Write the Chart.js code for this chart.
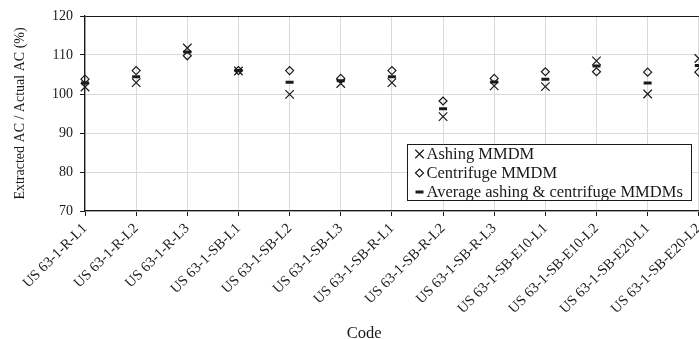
<!DOCTYPE html>
<html>
<head>
<meta charset="utf-8">
<script src="https://cdn.jsdelivr.net/npm/chart.js@4/dist/chart.umd.min.js"></script>
<style>
  html, body { margin: 0; padding: 0; background: #fff; overflow: hidden; }
  #wrap { width: 699px; height: 339px; overflow: hidden; }
  #chart { display: block; }
</style>
</head>
<body>
<div id="wrap"><canvas id="chart" width="699" height="339"></canvas></div>
<script>
// Sample codes along the x axis.
const codes = [
  "US 63-1-R-L1", "US 63-1-R-L2", "US 63-1-R-L3",
  "US 63-1-SB-L1", "US 63-1-SB-L2", "US 63-1-SB-L3",
  "US 63-1-SB-R-L1", "US 63-1-SB-R-L2", "US 63-1-SB-R-L3",
  "US 63-1-SB-E10-L1", "US 63-1-SB-E10-L2",
  "US 63-1-SB-E20-L1", "US 63-1-SB-E20-L2",
];

// Extracted / actual AC (%).
const ashing     = [101.8, 102.9, 111.8, 105.9, 99.9, 102.7, 102.9, 94.2, 102.1, 101.9, 108.5, 100.0, 109.1];
const centrifuge = [103.8, 106.0, 109.8, 106.0, 106.0, 104.0, 106.0, 98.2, 104.0, 105.7, 105.7, 105.6, 105.6];
const average    = [102.8, 104.4, 110.8, 106.0, 103.0, 103.4, 104.4, 96.2, 103.1, 103.8, 107.2, 102.8, 107.3];

const yMin = 70, yMax = 120, yStep = 10;
const xTitle = "Code";
const yTitle = "Extracted AC / Actual AC (%)";

const PAGE_W = 699;
const INK = "#1a1a1a";
const GRID = "#d9d9d9";
const SERIF = '"Liberation Serif", "Times New Roman", serif';
Chart.defaults.font.family = SERIF;
Chart.defaults.font.size = 14;
Chart.defaults.color = INK;

// Boxed legend inside the bottom-right of the plot, plus the "Code" caption,
// which in the original sits a little left of the plot's centre.
const boxLegend = {
  id: "boxLegend",
  afterDatasetsDraw(chart) {
    const { ctx, chartArea } = chart;
    const sets = chart.data.datasets;
    ctx.save();
    ctx.font = "16.5px " + SERIF;
    const textW = Math.max(...sets.map((d) => ctx.measureText(d.label).width));
    const rowH = 19;
    const w = Math.round(19 + textW + 9);
    const h = rowH * sets.length - 1;
    const right = chartArea.right - 8;
    const bottom = chartArea.bottom - 11;
    const left = Math.round(right - w) + 0.5;
    const top = Math.round(bottom - h) + 0.5;

    ctx.fillStyle = "#fff";
    ctx.fillRect(left, top, w, h);
    ctx.strokeStyle = INK;
    ctx.lineWidth = 1;
    ctx.strokeRect(left, top, w, h);

    sets.forEach((d, i) => {
      const cy = top + 9.5 + i * rowH;
      ctx.fillStyle = "rgba(0,0,0,0)";
      ctx.strokeStyle = INK;
      ctx.lineWidth = d.pointBorderWidth;
      Chart.helpers.drawPoint(ctx, {
        pointStyle: d.pointStyle,
        radius: d.legendRadius,
        rotation: 0,
        borderWidth: d.pointBorderWidth,
      }, left + 12, cy);
      ctx.fillStyle = INK;
      ctx.textBaseline = "middle";
      ctx.textAlign = "left";
      ctx.fillText(d.label, left + 19, cy + 1);
    });

    ctx.textAlign = "center";
    ctx.textBaseline = "middle";
    ctx.fillText(xTitle, chartArea.left + (chartArea.right - chartArea.left) * 0.455, chart.height - 5);
    ctx.restore();
  },
};

function makeConfig() {
  return {
    type: "line",
    data: {
      labels: codes,
      datasets: [
        {
          label: "Ashing MMDM", data: ashing,
          pointStyle: "crossRot", pointRadius: 6, legendRadius: 6, pointBorderWidth: 1.2,
        },
        {
          label: "Centrifuge MMDM", data: centrifuge,
          pointStyle: "rectRot", pointRadius: 4, legendRadius: 4, pointBorderWidth: 1.2,
        },
        {
          label: "Average ashing & centrifuge MMDMs", data: average,
          pointStyle: "line", pointRadius: 4, legendRadius: 4, pointBorderWidth: 3,
        },
      ].map((d) => ({
        ...d,
        showLine: false,
        pointBorderColor: INK,
        pointBackgroundColor: "rgba(0,0,0,0)",
        pointHoverRadius: d.pointRadius,
      })),
    },
    options: {
      responsive: false,
      animation: false,
      devicePixelRatio: 1,
      events: [],
      layout: { padding: { top: 16, right: 0, bottom: 0, left: 0 } },
      plugins: { legend: { display: false }, tooltip: { enabled: false } },
      scales: {
        x: {
          type: "category",
          offset: false,
          grid: { color: GRID, tickColor: INK, tickLength: 5 },
          border: { color: INK, width: 1.3 },
          ticks: { autoSkip: false, minRotation: 45, maxRotation: 45, padding: 4, color: INK, font: { size: 14.5 } },
          afterFit(s) { s.height = 128; s.paddingLeft = 0; s.paddingRight = 0; },
        },
        y: {
          min: yMin,
          max: yMax,
          grid: {
            color: (c) => (c.tick && c.tick.value === yMax ? INK : GRID),
            tickColor: INK,
            tickLength: 5,
          },
          border: { color: INK, width: 1.3 },
          ticks: { stepSize: yStep, padding: 7, color: INK },
          title: { display: true, text: yTitle, padding: { top: 12, bottom: 0 }, color: INK },
          afterFit(s) { s.width = 85; s.paddingTop = 0; s.paddingBottom = 0; },
        },
      },
    },
    plugins: [boxLegend],
  };
}

// The original's last category sits on the page edge (its marks half cut off).
// Chart.js still keeps a few px for the last rotated label, so measure that,
// then rebuild on a canvas wider by that much and let the wrapper clip it.
const canvas = document.getElementById("chart");
let chart = new Chart(canvas, makeConfig());
const extra = Math.round(PAGE_W - chart.chartArea.right);
if (extra > 0) {
  chart.destroy();
  canvas.width = PAGE_W + extra;
  canvas.height = 339;
  chart = new Chart(canvas, makeConfig());
}
</script>
</body>
</html>
